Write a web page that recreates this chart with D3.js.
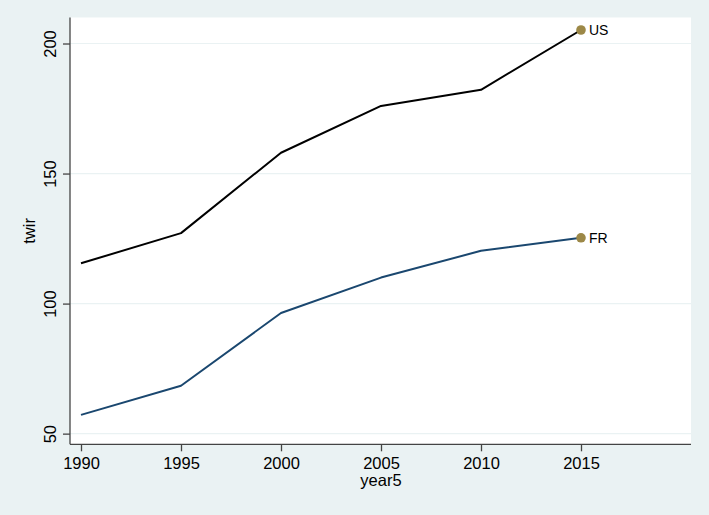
<!DOCTYPE html>
<html>
<head>
<meta charset="utf-8">
<script src="https://cdn.jsdelivr.net/npm/d3@7"></script>
<style>
html,body{margin:0;padding:0;background:#eaf2f3;}
svg{display:block;}
text{font-family:"Liberation Sans",Arial,Helvetica,sans-serif;fill:#000;}
</style>
</head>
<body>
<svg id="chart" width="709" height="515"></svg>
<script>
const years = [1990, 1995, 2000, 2005, 2010, 2015];
const usValues = [115.5, 127.1, 158.0, 176.0, 182.2, 205.2];
const frValues = [57.2, 68.4, 96.4, 110.0, 120.3, 125.3];
const seriesNames = ["US", "FR"];
const xTicks = [1990, 1995, 2000, 2005, 2010, 2015];
const yTicks = [50, 100, 150, 200];

(function () {
const svg = d3.select("#chart");
const W = 709, H = 515;
const pL = 70, pR = 691, pT = 17.5, pB = 444.3;

svg.append("rect").attr("width", W).attr("height", H).attr("fill", "#eaf2f3");
svg.append("rect").attr("x", pL).attr("y", pT)
  .attr("width", pR - pL).attr("height", pB - pT).attr("fill", "#fff");

const x = d3.scaleLinear().domain([1989.45, 2020.5]).range([pL, pR]);
const y = d3.scaleLinear().domain([45.9, 210]).range([pB, pT]);

// gridlines
svg.append("g").selectAll("line").data(yTicks).join("line")
  .attr("x1", pL).attr("x2", pR)
  .attr("y1", d => y(d)).attr("y2", d => y(d))
  .attr("stroke", "#eaf2f3").attr("stroke-width", 1.2);

// axes
const yAxis = svg.append("g").attr("transform", `translate(${pL},0)`)
  .call(d3.axisLeft(y).tickValues(yTicks).tickSize(7).tickPadding(7).tickSizeOuter(0));
yAxis.select(".domain").attr("d", `M0,${pT}V${pB}`).attr("stroke", "#444").attr("stroke-width", 1.3);
yAxis.selectAll(".tick line").attr("stroke", "#444").attr("stroke-width", 1.3);
yAxis.selectAll(".tick text")
  .attr("font-size", 16.5)
  .attr("transform", "rotate(-90)")
  .attr("x", 0).attr("y", -14)
  .attr("dy", 0)
  .attr("text-anchor", "middle");

const xAxis = svg.append("g").attr("transform", `translate(0,${pB})`)
  .call(d3.axisBottom(x).tickValues(xTicks).tickFormat(d3.format("d")).tickSize(7).tickPadding(6).tickSizeOuter(0));
xAxis.select(".domain").attr("d", `M${pL},0H${pR}`).attr("stroke", "#444").attr("stroke-width", 1.3);
xAxis.selectAll(".tick line").attr("stroke", "#444").attr("stroke-width", 1.3);
xAxis.selectAll(".tick text").attr("font-size", 16.5).attr("dy", "0.71em");

svg.selectAll(".domain").attr("fill", "none");
svg.selectAll(".tick text").attr("fill", "#000").attr("font-family", "'Liberation Sans',Arial,sans-serif");

// axis titles
svg.append("text").attr("x", x(2005)).attr("y", 486)
  .attr("text-anchor", "middle").attr("font-size", 16.5).text("year5");
svg.append("text").attr("transform", `translate(35,${(pT + pB) / 2}) rotate(-90)`)
  .attr("text-anchor", "middle").attr("font-size", 16.5).text("twir");

// lines
const series = [
  {name: seriesNames[0], values: usValues, color: "#000000"},
  {name: seriesNames[1], values: frValues, color: "#1a476f"}
];
const line = d3.line().x(d => x(d[0])).y(d => y(d[1]));
series.forEach(s => {
  const pts = years.map((yr, i) => [yr, s.values[i]]);
  svg.append("path").datum(pts).attr("d", line)
    .attr("fill", "none").attr("stroke", s.color).attr("stroke-width", 2)
    .attr("stroke-linejoin", "round");
  const last = pts[pts.length - 1];
  svg.append("circle").attr("cx", x(last[0])).attr("cy", y(last[1])).attr("r", 4.8)
    .attr("fill", "#9c8847");
  svg.append("text").attr("x", x(last[0]) + 8).attr("y", y(last[1]))
    .attr("dy", "0.36em").attr("font-size", 14).text(s.name);
});
})();
</script>
</body>
</html>
